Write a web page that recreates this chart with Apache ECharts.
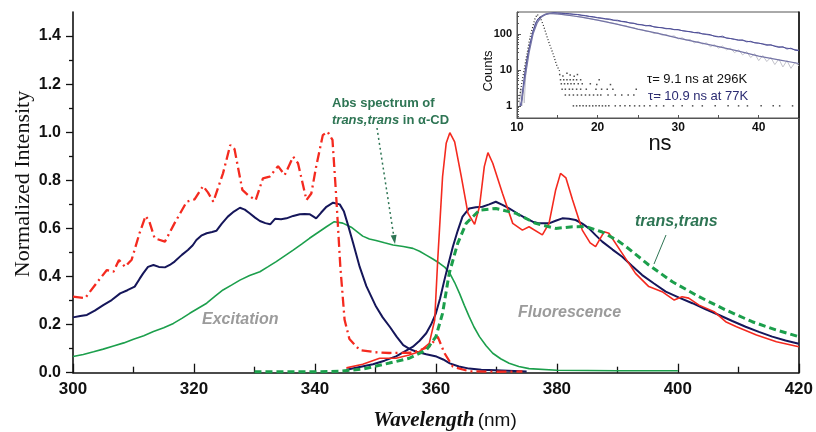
<!DOCTYPE html>
<html><head><meta charset="utf-8">
<script src="https://cdn.jsdelivr.net/npm/echarts@6/dist/echarts.min.js"></script>
<style>html,body{margin:0;padding:0;background:#fff}#c{width:816px;height:432px}</style>
</head><body><div id="c"></div>
<script>
// ---------- main chart data: [wavelength nm, normalized intensity] ----------
const excRedDashDot = [[300,0.316],[302,0.31],[303.9,0.373],[305.6,0.427],[306.7,0.42],[307.6,0.469],[308.6,0.44],[309.7,0.47],[311,0.58],[312,0.652],[312.6,0.63],[313.5,0.559],[315.2,0.545],[316.8,0.622],[318.8,0.711],[320.1,0.721],[321.5,0.776],[322.3,0.75],[323.2,0.711],[324.8,0.829],[326.0,0.947],[326.7,0.93],[328.0,0.76],[328.9,0.739],[330.2,0.718],[331.4,0.808],[332.5,0.815],[333.9,0.859],[335.0,0.822],[336.4,0.898],[337.2,0.871],[338.6,0.718],[339.4,0.745],[340.2,0.857],[341.3,0.988],[342.1,1.002],[342.9,0.968],[343.5,0.74],[344.2,0.44],[344.9,0.22],[345.7,0.14],[347.4,0.094],[350,0.085],[352.3,0.082],[356.2,0.083],[358.9,0.108],[360.3,0.15],[361.4,0.082],[362.8,0.025],[365.5,0.006],[370,0.004],[374.3,0.005]];
const excNavy = [[300,0.23],[301.2,0.236],[302.3,0.24],[303.6,0.258],[305,0.281],[306.4,0.302],[307.8,0.33],[309,0.343],[310.2,0.358],[311,0.39],[311.6,0.413],[312.4,0.44],[313.3,0.448],[314.2,0.44],[315.2,0.438],[316,0.448],[316.8,0.462],[318,0.49],[319,0.51],[319.8,0.53],[320.4,0.552],[321.2,0.57],[322.1,0.58],[323,0.585],[323.7,0.59],[324.6,0.62],[325.6,0.649],[326.6,0.67],[327.6,0.686],[328.4,0.678],[329.2,0.663],[330.1,0.645],[330.9,0.631],[331.8,0.622],[332.6,0.617],[333.4,0.64],[334.4,0.638],[335.3,0.642],[336.4,0.652],[337.5,0.659],[338.3,0.66],[339.1,0.659],[339.7,0.65],[340.2,0.642],[341,0.665],[341.9,0.69],[343.0,0.707],[344.1,0.70],[344.8,0.67],[345.4,0.62],[346.3,0.54],[347.4,0.44],[348.5,0.36],[350.1,0.275],[351.2,0.23],[352.4,0.19],[353.5,0.15],[354.6,0.115],[355.7,0.098],[356.8,0.087],[358.4,0.077],[360.1,0.067],[361.2,0.055],[362.3,0.039],[363.8,0.026],[365.5,0.017],[367.5,0.012],[369.9,0.01],[375,0.005]];
const absGreen = [[300,0.067],[301.7,0.076],[303.4,0.087],[305,0.098],[306.7,0.111],[308.4,0.124],[310,0.139],[311.7,0.154],[313.3,0.171],[315,0.187],[316.6,0.205],[318,0.226],[319.3,0.247],[320.7,0.268],[322.1,0.289],[323.5,0.318],[324.8,0.344],[326.2,0.364],[327.6,0.385],[329.2,0.404],[330.9,0.42],[332.2,0.44],[333.6,0.462],[335,0.486],[336.4,0.51],[337.8,0.535],[339.1,0.559],[340.5,0.583],[341.9,0.607],[343.2,0.628],[344.6,0.622],[346,0.605],[347.9,0.568],[349,0.556],[350.1,0.55],[351.5,0.54],[352.9,0.531],[354.6,0.525],[356.2,0.517],[357.3,0.505],[358.4,0.489],[359.5,0.473],[360.6,0.455],[361.5,0.438],[362.3,0.413],[363.1,0.375],[363.9,0.33],[364.7,0.28],[365.5,0.233],[366.3,0.19],[367.2,0.15],[368.3,0.112],[369.4,0.081],[370.7,0.058],[372.1,0.039],[373.7,0.026],[375.4,0.017],[380,0.01],[390,0.008],[400,0.008]];
const fluoNavy = [[345.2,0.012],[347.4,0.024],[349.6,0.035],[351.5,0.05],[353.4,0.068],[354.8,0.088],[356.2,0.108],[357.3,0.133],[358.4,0.164],[359.2,0.2],[360,0.247],[360.7,0.31],[361.4,0.385],[362.1,0.455],[362.8,0.524],[363.6,0.59],[364.4,0.649],[365.5,0.683],[366.6,0.688],[367.7,0.69],[368.8,0.7],[369.9,0.711],[371,0.698],[372.1,0.683],[373.5,0.662],[374.9,0.642],[376,0.628],[377.1,0.621],[378.7,0.621],[379.8,0.632],[380.9,0.642],[382,0.64],[383.1,0.635],[384.2,0.62],[385.3,0.60],[386.4,0.572],[387.5,0.545],[389.2,0.512],[390.8,0.482],[392.4,0.445],[394.1,0.406],[396,0.372],[398,0.337],[400.2,0.312],[402.4,0.289],[404.6,0.264],[406.8,0.24],[409,0.215],[411.2,0.191],[413.4,0.17],[415.6,0.15],[417.8,0.134],[420,0.12]];
const fluoRed = [[345.2,0.02],[347.9,0.035],[350.7,0.06],[353.4,0.06],[355.6,0.074],[357.2,0.087],[358.9,0.122],[359.8,0.219],[360.3,0.469],[361.1,0.815],[361.7,0.954],[362.3,0.998],[363.1,0.96],[364.2,0.815],[365.3,0.663],[366.4,0.617],[367.2,0.69],[368.0,0.857],[368.6,0.915],[369.4,0.871],[371.0,0.746],[372.7,0.621],[374.3,0.593],[375.4,0.607],[377.6,0.573],[378.7,0.621],[379.8,0.76],[380.6,0.829],[381.5,0.81],[382.6,0.718],[384.2,0.593],[385.5,0.54],[386.4,0.524],[387.8,0.586],[388.6,0.58],[390.8,0.496],[393,0.413],[395.2,0.358],[397.4,0.337],[399.4,0.302],[400.7,0.316],[401.8,0.31],[403.5,0.281],[406,0.254],[407.9,0.212],[409.7,0.191],[413,0.157],[416.3,0.129],[420,0.108]];
const fluoGreenDash = [[330,0.004],[340,0.004],[344,0.006],[347.9,0.015],[352.3,0.04],[355.6,0.06],[358.4,0.094],[360,0.15],[361.1,0.247],[362.2,0.413],[363.6,0.538],[365,0.621],[367.2,0.676],[369.9,0.683],[373.2,0.663],[376.5,0.621],[379.8,0.60],[382.6,0.607],[384.8,0.608],[387.5,0.585],[390,0.55],[391.4,0.525],[395.2,0.448],[399.1,0.378],[403.5,0.316],[407.9,0.261],[412.3,0.212],[416.2,0.178],[420,0.15]];

// ---------- inset data: [time ns, counts] ----------
const irf = [[10.2,1.3],[10.6,4.3],[11.0,14],[11.6,78],[12.2,252],[12.5,347],[12.9,282],[13.3,165],[13.9,63],[14.5,27],[14.9,14],[15.3,9]];
const irfTail = [[15.3,7.4],[15.7,6.8],[16.2,8.0],[16.6,7.2],[17.1,6.6],[17.5,7.4],
 [15.4,5.3],[15.8,5.3],[16.2,5.3],[16.6,5.3],[17.0,5.3],[17.4,5.3],[17.9,5.3],[20.2,5.3],
 [15.5,4.1],[15.9,4.1],[16.3,4.1],[16.7,4.1],[17.1,4.1],[17.6,4.1],[18.1,4.1],[19.1,4.1],[19.9,3.9],[21.6,3.9],
 [15.6,2.9],[16.0,2.9],[16.5,2.9],[16.9,2.9],[17.4,2.9],[17.9,2.9],[18.6,2.9],[19.8,2.9],[20.5,2.9],[21.2,2.9],[21.9,2.9],[24.8,2.9],
 [16.0,2.0],[16.5,2.0],[17.0,2.0],[17.5,2.0],[18.0,2.0],[18.5,2.0],[19.0,2.0],[19.5,2.0],[20.0,2.0],[20.4,2.0],[21.3,2.0],[22.2,2.0],[23.0,2.0],[23.8,2.0],[24.5,2.0],[27.7,2.0],
 [17.0,1],[17.4,1],[17.8,1],[18.2,1],[18.6,1],[19.0,1],[19.4,1],[19.8,1],[20.2,1],[20.6,1],[21.0,1],[21.4,1],[22.2,1],[22.8,1],[23.4,1],[24.0,1],[24.6,1],[25.2,1],[25.8,1],[26.5,1],[27.3,1],[28.2,1],[29.4,1],[30.5,1],[31.8,1],[33.0,1],[34.6,1],[36.2,1],[37.5,1],[38.6,1],[40.3,1],[41.8,1],[42.6,1],[44.2,1]];
const decay77K = [[10.4,1],[10.6,1.5],[10.8,4],[11.0,9],[11.2,18],[11.4,30],[11.6,50],[11.8,78],[12.0,120],[12.3,200],[12.6,260],[13.0,300],[13.4,330],[13.8,355],[14.2,372],[14.6,385],[15.0,378],[15.5,375],[16,368],[16.5,362],[17,350],[17.5,345],[18,330],[18.5,322],[19,305],[19.5,298],[20,282],[20.5,275],[21,262],[21.5,258],[22,240],[22.5,238],[23,222],[23.5,218],[24,200],[24.5,198],[25,180],[25.5,178],[26,166],[26.5,172],[27,155],[27.5,150],[28,148],[28.5,138],[29,140],[29.5,130],[30,132],[30.5,122],[31,118],[31.5,115],[32,108],[32.5,110],[33,100],[33.5,98],[34,95],[34.5,85],[35,82],[35.5,86],[36,76],[36.5,74],[37,70],[37.5,66],[38,68],[38.5,60],[39,62],[39.5,56],[40,55],[40.5,52],[41,48],[41.5,50],[42,45],[42.5,42],[43,44],[43.5,38],[44,40],[44.5,35],[45,34]];
const decay296K = [[10.3,1],[10.5,3],[10.6,1],[10.8,4],[10.9,1.2],[11.1,8],[11.3,20],[11.5,35],[11.8,70],[12.1,130],[12.5,210],[13,290],[13.5,340],[14,365],[14.5,360],[15,352],[15.5,348],[16,336],[16.5,325],[17,314],[17.5,300],[18,292],[18.5,276],[19,268],[19.5,250],[20,242],[20.5,228],[21,222],[21.5,205],[22,196],[22.5,185],[23,170],[23.5,168],[24,152],[24.5,148],[25,132],[25.5,130],[26,118],[26.5,116],[27,102],[27.5,106],[28,92],[28.5,96],[29,84],[29.5,88],[30,72],[30.5,78],[31,66],[31.5,70],[32,56],[32.5,62],[33,52],[33.5,56],[34,44],[34.5,50],[35,40],[35.5,46],[36,36],[36.5,40],[37,30],[37.5,36],[38,26],[38.5,32],[39,22],[39.5,28],[40,18],[40.5,25],[41,17],[41.5,22],[42,14],[42.5,20],[43,12],[43.5,18],[44,11],[44.5,16],[45,13]];
const fit296K = [[10.5,1],[11,6],[11.5,30],[12,100],[12.5,200],[13,290],[13.5,345],[14,370],[15,355],[16,335],[17,312],[18,290],[19,265],[20,240],[22.5,183],[25,135],[27.5,103],[30,76],[32.5,58],[35,44],[37.5,33],[40,24],[42.5,19],[45,15]];
const fit77K = [[10.5,1],[11,8],[11.5,40],[12,120],[12.5,230],[13,310],[13.5,355],[14,375],[14.5,382],[15,378],[17.5,340],[20,278],[22.5,228],[25,185],[27.5,152],[30,128],[32.5,104],[35,84],[37.5,68],[40,55],[42.5,44],[45,35]];

// ---------- tick values ----------
const xTicks = [300,320,340,360,380,400,420];
const xMinorTicks = [310,330,350,370,390,410];
const yTicks = [0,0.2,0.4,0.6,0.8,1.0,1.2,1.4];
const yMinorTicks = [0.1,0.3,0.5,0.7,0.9,1.1,1.3];
const insetXLabels = [10,20,30,40];
const insetXTicks = [10,15,20,25,30,35,40];
const insetYCounts = [1,10,100];
const insetYMinorCounts = [0.5,0.6,0.7,0.8,0.9,2,3,4,5,6,7,8,9,20,30,40,50,60,70,80,90,200,300,400];

const lg = arr => arr.map(p => [p[0], Math.log10(p[1])]);

const AX = '#111';
const RED = '#f42a1f', NAVY = '#15165a', GREEN = '#1c9f4c', DKGREEN = '#2e7554';
const F = 'Liberation Sans, Arial, sans-serif';

const chart = echarts.init(document.getElementById('c'), null, {renderer:'canvas'});

function arrowHead(x1,y1,x2,y2,len,w){
  const a = Math.atan2(y2-y1,x2-x1);
  const bx = x2 - len*Math.cos(a), by = y2 - len*Math.sin(a);
  const nx = -Math.sin(a)*w, ny = Math.cos(a)*w;
  return [[x2,y2],[bx+nx,by+ny],[bx-nx,by-ny]];
}

const option = {
  animation:false,
  backgroundColor:'#fff',
  grid:[
    {left:73, right:16, top:12, bottom:59.3, show:false},
    {left:517, top:12, width:282, height:106, show:true, backgroundColor:'#fff', borderColor:'#555', borderWidth:1}
  ],
  xAxis:[
    {gridIndex:0, type:'value', min:300, max:420, position:'bottom',
     axisLine:{show:true,onZero:false,lineStyle:{color:AX,width:1.6}},
     axisTick:{show:true,inside:true,length:9,customValues:xTicks,lineStyle:{color:AX,width:1.3}},
     axisLabel:{margin:8,customValues:xTicks,fontFamily:F,fontWeight:'bold',fontSize:17,color:'#111'},
     splitLine:{show:false}},
    {gridIndex:0, type:'value', min:300, max:420, position:'bottom', offset:0,
     axisLine:{show:false,onZero:false},
     axisTick:{show:true,inside:true,length:6,customValues:xMinorTicks,lineStyle:{color:AX,width:1.3}},
     axisLabel:{show:false}, splitLine:{show:false}},
    {gridIndex:1, type:'value', min:10, max:45, position:'bottom',
     axisLine:{show:true,onZero:false,lineStyle:{color:'#555',width:1}},
     axisTick:{show:true,inside:true,length:3,customValues:insetXTicks,lineStyle:{color:'#555'}},
     axisLabel:{margin:4,customValues:insetXLabels,fontFamily:F,fontWeight:'bold',fontSize:12,color:'#111'},
     splitLine:{show:false}}
  ],
  yAxis:[
    {gridIndex:0, type:'value', min:0, max:1.5, position:'left',
     axisLine:{show:true,onZero:false,lineStyle:{color:AX,width:1.6}},
     axisTick:{show:true,length:7,customValues:yTicks,lineStyle:{color:AX,width:1.3}},
     axisLabel:{margin:12,customValues:yTicks,formatter:v=>v.toFixed(1),fontFamily:F,fontWeight:'bold',fontSize:16,color:'#111'},
     splitLine:{show:false}},
    {gridIndex:0, type:'value', min:0, max:1.5, position:'left', offset:0,
     axisLine:{show:false,onZero:false},
     axisTick:{show:true,length:4,customValues:yMinorTicks,lineStyle:{color:AX,width:1.3}},
     axisLabel:{show:false}, splitLine:{show:false}},
    {gridIndex:0, type:'value', min:0, max:1.5, position:'right', offset:0,
     axisLine:{show:true,onZero:false,lineStyle:{color:AX,width:1.6}},
     axisTick:{show:false}, axisLabel:{show:false}, splitLine:{show:false}},
    {gridIndex:1, type:'value', min:-0.337, max:2.606, position:'left',
     axisLine:{show:true,onZero:false,lineStyle:{color:'#555',width:1}},
     axisTick:{show:true,inside:true,length:4,customValues:insetYCounts.map(Math.log10),lineStyle:{color:'#555'}},
     axisLabel:{margin:5,customValues:insetYCounts.map(Math.log10),formatter:v=>String(Math.round(Math.pow(10,v))),fontFamily:F,fontWeight:'bold',fontSize:11,color:'#111'},
     splitLine:{show:false}},
    {gridIndex:1, type:'value', min:-0.337, max:2.606, position:'left', offset:0,
     axisLine:{show:false,onZero:false},
     axisTick:{show:true,inside:true,length:2,customValues:insetYMinorCounts.map(Math.log10),lineStyle:{color:'#555'}},
     axisLabel:{show:false}, splitLine:{show:false}}
  ],
  series:[
    {type:'line', xAxisIndex:0, yAxisIndex:0, data:absGreen, symbol:'none', lineStyle:{color:GREEN,width:1.6}},
    {type:'line', xAxisIndex:0, yAxisIndex:0, data:excNavy, symbol:'none', lineStyle:{color:NAVY,width:2}},
    {type:'line', xAxisIndex:0, yAxisIndex:0, data:fluoNavy, symbol:'none', lineStyle:{color:NAVY,width:2}},
    {type:'line', xAxisIndex:0, yAxisIndex:0, data:fluoRed, symbol:'none', lineStyle:{color:RED,width:1.6}},
    {type:'line', xAxisIndex:0, yAxisIndex:0, data:excRedDashDot, symbol:'none', lineStyle:{color:RED,width:2.3,type:[10,4,2,4]}},
    {type:'line', xAxisIndex:0, yAxisIndex:0, data:fluoGreenDash, symbol:'none', lineStyle:{color:GREEN,width:3,type:[7,4]}},
    // inset
    {type:'line', xAxisIndex:2, yAxisIndex:3, data:lg(decay296K), symbol:'none', lineStyle:{color:'#c4c4cc',width:1}},
    {type:'line', xAxisIndex:2, yAxisIndex:3, data:lg(fit77K), symbol:'none', lineStyle:{color:'#7474a6',width:1}},
    {type:'line', xAxisIndex:2, yAxisIndex:3, data:lg(decay77K), symbol:'none', lineStyle:{color:'#4e4e98',width:1}},
    {type:'line', xAxisIndex:2, yAxisIndex:3, data:lg(fit296K), symbol:'none', lineStyle:{color:'#7474a6',width:1.2}},
    {type:'line', xAxisIndex:2, yAxisIndex:3, data:lg(irf), symbol:'none', lineStyle:{color:'#222',width:1.2,type:[1,2]}},
    {type:'scatter', xAxisIndex:2, yAxisIndex:3, data:lg(irfTail), symbol:'rect', symbolSize:1.5, itemStyle:{color:'#222'}}
  ],
  graphic:[
    {type:'text', x:23, y:184, rotation:Math.PI/2, style:{text:'Normalized Intensity', font:'22px "Liberation Serif", "Times New Roman", serif', fill:'#111', align:'center', verticalAlign:'middle'}},
    {type:'text', x:445, y:421, style:{text:'{a|Wavelength} {b|(nm)}', align:'center', verticalAlign:'middle',
      rich:{a:{fontFamily:'Liberation Serif, Times New Roman, serif', fontStyle:'italic', fontWeight:'bold', fontSize:21, fill:'#111'},
            b:{fontFamily:F, fontSize:19, fill:'#111'}}}},
    {type:'text', x:332, y:103, style:{text:'Abs spectrum of', font:'bold 13px ' + F, fill:DKGREEN, verticalAlign:'middle'}},
    {type:'text', x:332, y:120, style:{text:'{i|trans,trans}{n| in α-CD}', verticalAlign:'middle',
      rich:{i:{fontFamily:F, fontStyle:'italic', fontWeight:'bold', fontSize:13, fill:DKGREEN},
            n:{fontFamily:F, fontWeight:'bold', fontSize:13, fill:DKGREEN}}}},
    {type:'line', shape:{x1:377,y1:128,x2:393.6,y2:235}, style:{stroke:DKGREEN, lineWidth:1.5, lineDash:[2,3]}},
    {type:'polygon', shape:{points:arrowHead(377,128,395,244,9,3)}, style:{fill:DKGREEN}},
    {type:'text', x:202, y:320, style:{text:'Excitation', font:'italic bold 16px ' + F, fill:'#9b9b9b', verticalAlign:'middle'}},
    {type:'text', x:518, y:313, style:{text:'Fluorescence', font:'italic bold 16px ' + F, fill:'#9b9b9b', verticalAlign:'middle'}},
    {type:'text', x:635, y:222, style:{text:'trans,trans', font:'italic bold 16px ' + F, fill:DKGREEN, verticalAlign:'middle'}},
    {type:'line', shape:{x1:666,y1:235,x2:654,y2:264}, style:{stroke:DKGREEN, lineWidth:1}},
    {type:'text', x:488, y:71, rotation:Math.PI/2, style:{text:'Counts', font:'13px ' + F, fill:'#111', align:'center', verticalAlign:'middle'}},
    {type:'text', x:660, y:144, style:{text:'ns', font:'22px ' + F, fill:'#111', align:'center', verticalAlign:'middle'}},
    {type:'text', x:647, y:79, style:{text:'τ= 9.1 ns at 296K', font:'13px ' + F, fill:'#111', verticalAlign:'middle'}},
    {type:'text', x:648, y:96, style:{text:'τ= 10.9 ns at 77K', font:'13px ' + F, fill:'#2b2b72', verticalAlign:'middle'}}
  ]
};
chart.setOption(option);
</script>
</body></html>
